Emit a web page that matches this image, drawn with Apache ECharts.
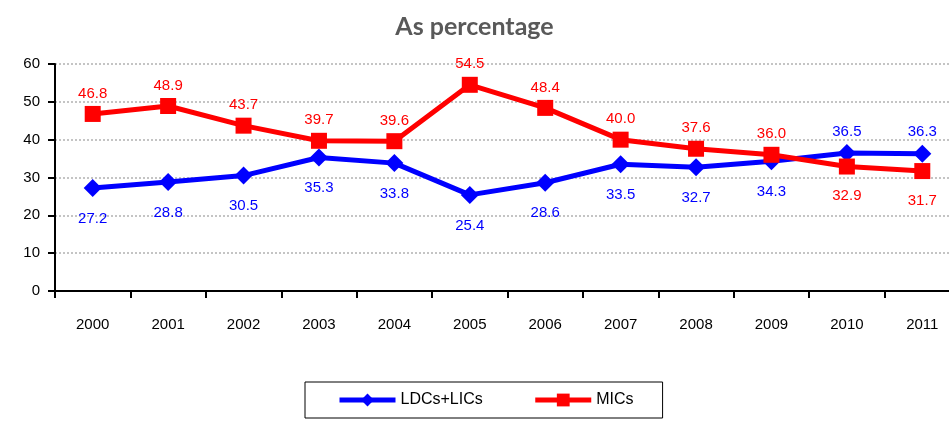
<!DOCTYPE html>
<html>
<head>
<meta charset="utf-8">
<script src="https://cdn.jsdelivr.net/npm/echarts@6/dist/echarts.min.js"></script>
<style>
  html, body { margin: 0; padding: 0; background: #fff; }
  #main { width: 949px; height: 422px; }
</style>
</head>
<body>
<div id="main"></div>
<script>
var years = ['2000', '2001', '2002', '2003', '2004', '2005', '2006', '2007', '2008', '2009', '2010', '2011'];
var ldcs = [27.2, 28.8, 30.5, 35.3, 33.8, 25.4, 28.6, 33.5, 32.7, 34.3, 36.5, 36.3];
var mics = [46.8, 48.9, 43.7, 39.7, 39.6, 54.5, 48.4, 40.0, 37.6, 36.0, 32.9, 31.7];
// which labels go above (true) or below the point
var ldcsAbove = [false, false, false, false, false, false, false, false, false, false, true, true];
var micsAbove = [true, true, true, true, true, true, true, true, true, true, false, false];

function withLabels(vals, above) {
  return vals.map(function (v, i) {
    return {
      value: v,
      label: {
        position: above[i] ? 'top' : 'bottom',
        distance: above[i] ? 5 : 14
      }
    };
  });
}

var myChart = echarts.init(document.getElementById('main'));
var labelFont = { fontFamily: 'Liberation Sans, Arial, sans-serif', fontSize: 15 };

var option = {
  animation: false,
  title: {
    text: 'As percentage',
    left: 'center',
    top: 9,
    textStyle: { color: '#595959', fontSize: 25, fontWeight: 'bold', fontFamily: 'Lato, Open Sans, sans-serif' }
  },
  legend: {
    left: 305,
    top: 382,
    padding: [10, 29, 10, 32],
    itemGap: 50,
    itemWidth: 56,
    itemHeight: 16,
    borderColor: '#000',
    borderWidth: 1,
    borderRadius: 0,
    lineStyle: { width: 5 },
    textStyle: { color: '#000', fontSize: 16, fontFamily: 'Liberation Sans, Arial, sans-serif' },
    data: ['LDCs+LICs', 'MICs']
  },
  grid: { left: 55, width: 905, top: 64, height: 227, outerBoundsMode: 'none', containLabel: false },
  xAxis: {
    type: 'category',
    data: years,
    boundaryGap: true,
    axisLine: { lineStyle: { color: '#000', width: 2 } },
    axisTick: { show: true, length: 7, lineStyle: { color: '#000', width: 2 } },
    axisLabel: Object.assign({ color: '#000', margin: 26 }, labelFont)
  },
  yAxis: {
    type: 'value',
    min: 0,
    max: 60,
    interval: 10,
    axisLine: { show: true, lineStyle: { color: '#000', width: 2 } },
    axisTick: { show: true, length: 7, lineStyle: { color: '#000', width: 2 } },
    axisLabel: Object.assign({ color: '#000', margin: 15 }, labelFont),
    splitLine: { lineStyle: { color: '#c4c4c4', type: [2, 2], width: 2 } }
  },
  series: [
    {
      name: 'LDCs+LICs',
      type: 'line',
      data: withLabels(ldcs, ldcsAbove),
      color: '#0000ff',
      symbol: 'diamond',
      symbolSize: 18,
      lineStyle: { width: 5, color: '#0000ff' },
      itemStyle: { color: '#0000ff' },
      label: Object.assign({ show: true, color: '#0000ff', formatter: function (p) { return p.value.toFixed(1); } }, labelFont),
      z: 3
    },
    {
      name: 'MICs',
      type: 'line',
      data: withLabels(mics, micsAbove),
      color: '#ff0000',
      symbol: 'rect',
      symbolSize: 16,
      lineStyle: { width: 5, color: '#ff0000' },
      itemStyle: { color: '#ff0000' },
      label: Object.assign({ show: true, color: '#ff0000', formatter: function (p) { return p.value.toFixed(1); } }, labelFont),
      z: 4
    }
  ]
};
myChart.setOption(option);
</script>
</body>
</html>
